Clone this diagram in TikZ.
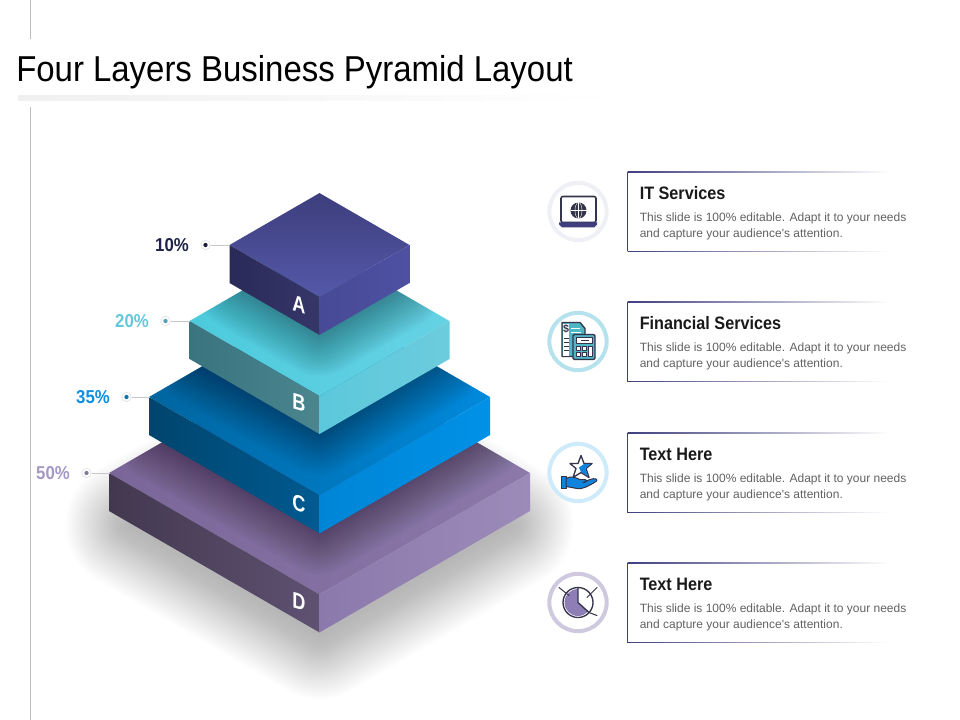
\documentclass[tikz,border=0pt]{standalone}
\usepackage{fontspec}
\setmainfont{Liberation Sans}
\newfontfamily\titlefont[FakeStretch=0.915]{Liberation Sans}
\newfontfamily\headfont[FakeStretch=0.9]{Liberation Sans}
\newfontfamily\letterfont[FakeStretch=0.8]{Liberation Sans}
\usepackage{xcolor}
\definecolor{xnavy}{HTML}{3F3F7F}
\definecolor{xink}{HTML}{34344A}
\definecolor{xteal}{HTML}{4FB6C6}
\definecolor{xblue}{HTML}{1283DC}
\definecolor{xpurple}{HTML}{8F7DB5}
\definecolor{atopa}{HTML}{3D3E7C}
\definecolor{atopb}{HTML}{5558A9}
\definecolor{alefta}{HTML}{292A58}
\definecolor{aleftb}{HTML}{363769}
\definecolor{arighta}{HTML}{4E50A2}
\definecolor{arightb}{HTML}{474A96}
\definecolor{btopa}{HTML}{4CCBDD}
\definecolor{btopb}{HTML}{66D2E4}
\definecolor{blefta}{HTML}{39747F}
\definecolor{bleftb}{HTML}{4B858E}
\definecolor{brighta}{HTML}{6CCCDD}
\definecolor{brightb}{HTML}{5CC8DC}
\definecolor{ctopa}{HTML}{00659F}
\definecolor{ctopb}{HTML}{0089DC}
\definecolor{clefta}{HTML}{00456E}
\definecolor{cleftb}{HTML}{005A90}
\definecolor{crighta}{HTML}{0091E6}
\definecolor{crightb}{HTML}{0085D6}
\definecolor{dtopa}{HTML}{7A6698}
\definecolor{dtopb}{HTML}{8C79AA}
\definecolor{dlefta}{HTML}{42384F}
\definecolor{dleftb}{HTML}{5F5172}
\definecolor{drighta}{HTML}{9C8BB9}
\definecolor{drightb}{HTML}{8C79AC}
\usetikzlibrary{calc}
\tikzset{
  %% Styles %%
  guide/.style = {draw=black!25, line width=0.75pt},
  leader/.style = {draw=black!22, line width=0.6pt},
  pct/.style = {font=\headfont\bfseries\fontsize{14}{16}\selectfont, text=#1},
  letter/.style = {font=\letterfont\bfseries\fontsize{17}{19}\selectfont, text=white, transform shape, yslant=-0.3},
  cardhead/.style = {anchor=west, inner sep=0, font=\headfont\bfseries\fontsize{13.5}{16}\selectfont, text=black!90},
  cardtext/.style = {anchor=north west, inner sep=0, align=left, font=\fontsize{9}{12}\selectfont, text=black!62},
  cardline/.style = {left color=xnavy, middle color=xnavy!25, right color=white},
  ring/.style = {draw=#1, line width=3pt, fill=white},
  iconline/.style = {draw=xink, line width=0.75pt, line join=round, line cap=round},
  pics/slab/.style n args = {3}{
      code = {
          \pgfmathsetmacro{\hh}{#1*0.577}
          % Top face
          \shade[top color=#2topa, bottom color=#2topb, shading angle=#3] (-#1,0) -- (0,-\hh) -- (#1,0) -- (0,\hh) -- cycle;
          % Side faces
          \shade[left color=#2lefta, right color=#2leftb] (-#1,0) -- (0,\hh) -- (0,\hh+38) -- (-#1,38) -- cycle;
          \shade[left color=#2rightb, right color=#2righta, shading angle=90] (#1,0) -- (0,\hh) -- (0,\hh+38) -- (#1,38) -- cycle;
      }
  },
  pics/slabshade/.style n args = {3}{
      code = {
          \pgfmathsetmacro{\hh}{#1*0.577}
          \pgfmathsetmacro{\uh}{#2*0.577}
          \begin{scope}
              \clip (-#1,0) -- (0,-\hh) -- (#1,0) -- (0,\hh) -- cycle;
              \foreach \i in {1,...,24}
                  \draw[black, opacity=0.017, line join=round, line width=\i*3.75*0.75pt]
                      (-#2,#3) -- (0,#3-\uh) -- (#2,#3) -- (0,#3+\uh) -- cycle;
          \end{scope}
      }
  },
}

\begin{document}
\begin{tikzpicture}[x=0.75pt, y=-0.75pt]
    \useasboundingbox (0,0) rectangle (960,720);

    % Page furniture
    \draw[guide] (30.5,0) -- (30.5,39);
    \draw[guide] (30.5,107) -- (30.5,720);
    \shade[left color=black!6, right color=white] (18,96) rectangle (620,101);
    \node[anchor=west, inner sep=0, font=\titlefont\fontsize{27}{32}\selectfont] (title) at (16,72) {Four Layers Business Pyramid Layout};

    % Shadow below the pyramid
    \foreach \i in {1,...,40}
        \draw[black, opacity=0.0065, line join=round, line width=\i*3.2*0.75pt]
            (129.5,525) -- (319.5,415) -- (509.5,525) -- (319.5,635) -- cycle;

    % Layers
    \pic at (319.5,473) {slab={210.5}{d}{90}};
    \pic at (319.5,473) {slabshade={210.5}{160}{-36}};
    \pic at (319.5,397) {slab={170.5}{c}{90}};
    \pic at (319.5,397) {slabshade={170.5}{120}{-36}};
    \pic at (319.5,321) {slab={130}{b}{90}};
    \pic at (319.5,321) {slabshade={130}{80}{-36}};
    \pic at (319.5,245) {slab={90}{a}{0}};

    % Letters on the front edges
    \foreach \t/\yy in {A/305,B/403,C/504,D/602}
        \node[letter] (letter\t) at (299,\yy) {\t};

    % Percent labels
    \foreach \t/\xx/\yy/\c/\k in {10\%/172/245/1F2248/a,20\%/132/321/63C8DC/b,35\%/93/397/0F8FE0/c,50\%/53/473/A598C4/d} {
        \definecolor{xpct}{HTML}{\c}
        \node[pct=xpct] (pct\k) at (\xx,\yy) {\t};
        \node[circle, draw=black!12, fill=white, line width=0.5pt, minimum size=7pt, inner sep=0] (dot\k) at (\xx+33.5,\yy) {};
        \fill[xpct!80!black] (dot\k.center) circle (1.6pt);
        \coordinate (corner\k) at (\xx+57,\yy);
        \draw[leader] (dot\k) -- (corner\k);
    }

    % Cards and rings
    \foreach \t/\yy/\c [count=\k from 1] in {IT Services/172/EEF0F6,Financial Services/302/B5E2EC,Text Here/433/CDEBFA,Text Here/563/CFC9E0} {
        \definecolor{xring}{HTML}{\c}
        \draw[xnavy, line width=0.75pt] (627.5,\yy) -- (627.5,\yy+79.5);
        \shade[cardline] (627.5,\yy-0.4) rectangle (890,\yy+0.4);
        \shade[cardline] (627.5,\yy+79.1) rectangle (890,\yy+79.9);
        \node[cardhead] (head\k) at (639.5,\yy+21) {\t};
        \node[cardtext] (text\k) at (639.5,\yy+41) {This slide is 100\% editable. Adapt it to your needs\\and capture your audience\textquotesingle s attention.};
        \node[circle, ring=xring, minimum size=43pt, inner sep=0] (ring\k) at (578,\yy+39.5) {};
    }

    % Laptop
    \begin{scope}[shift={(ring1.center)}]
        \draw[xink, line width=1.2pt, rounded corners=1.5pt, fill=white] (-17,-15) rectangle (18,11);
        \fill[xnavy] (-19,11) -- (19,11) -- (19,13) -- (16,16) -- (-16,16) -- (-19,13) -- cycle;
        \fill[xink] (0.5,-1) circle (8);
        \draw[white, line width=0.3pt] (-7.5,-1) -- (8.5,-1) (0.5,-9) -- (0.5,7);
        \draw[white, line width=0.3pt] (0.5,-1) circle (3.5 and 8);
    \end{scope}

    % Bill and calculator
    \begin{scope}[shift={(ring2.center)}]
        \draw[iconline, line width=1pt, fill=xteal] (-16,-19) -- (2,-19) -- (7,-13) -- (7,15) -- (-16,15) -- cycle;
        \fill[white] (-15,-18) rectangle (-9,14);
        \draw[white, line width=1.4pt] (-7,-13) -- (2,-13) (-7,-9) -- (3,-9);
        \foreach \yy in {-3,1,5,9}
            \draw[xink, line width=1pt] (-14,\yy) -- (-9,\yy);
        \node[inner sep=0, font=\bfseries\fontsize{8}{8}\selectfont, text=xink] (dollar) at (-12,-13) {\$};
        \draw[iconline, line width=1pt, rounded corners=1pt, fill=xteal] (-5,-7) rectangle (17,18);
        \draw[iconline, fill=white] (-2,-4) rectangle (14,2);
        \draw[xink, line width=0.6pt] (3,-1) -- (11,-1);
        \foreach \xx/\yy in {-2/5,4/5,-2/11,4/11}
            \draw[iconline, fill=white] (\xx,\yy) rectangle ++(4,4);
        \draw[iconline, fill=white] (10,5) rectangle (14,15);
    \end{scope}

    % Hand and star
    \begin{scope}[shift={(ring3.center)}]
        \draw[iconline, line width=1pt, fill=white] (3,-17) -- (6,-9) -- (14,-9) -- (8,-4) -- (11,5) -- (3,0) -- (-5,5) -- (-2,-4) -- (-8,-9) -- (0,-9) -- cycle;
        \fill[xblue] (6,-8.5) -- (12.5,-8.5) -- (7.5,-4) -- (10,3.5) -- (3,-0.5) -- (1,-5) -- cycle;
        \draw[iconline, fill=xblue] (-17,4) rectangle (-12,16);
        \draw[iconline, fill=xblue] (-12,6) .. controls (-7,3) and (-3,5) .. (2,7) -- (7,7) .. controls (10,8) and (8,10) .. (5,10) -- (12,7) .. controls (17,5) and (21,7) .. (18,9) .. controls (10,14) and (4,17) .. (-1,16) -- (-12,14) -- cycle;
    \end{scope}

    % Pie chart
    \begin{scope}[shift={(ring4.center)}]
        \fill[xpurple] (0,0) circle (13.5);
        \begin{scope}
            \clip (0,0) circle (15);
            \fill[white] (0,0) -- (0,-20) -- (20,-20) -- (20,18) -- cycle;
        \end{scope}
        \draw[iconline, line width=1pt] (0,0) circle (15);
        \draw[iconline, line width=1pt] (0,-15) -- (0,0) -- (11,10);
        \draw[iconline] (-19,-15) -- (-9,-7) (19,-15) -- (9,-5) (19,13) -- (11,10);
    \end{scope}
\end{tikzpicture}
\end{document}
